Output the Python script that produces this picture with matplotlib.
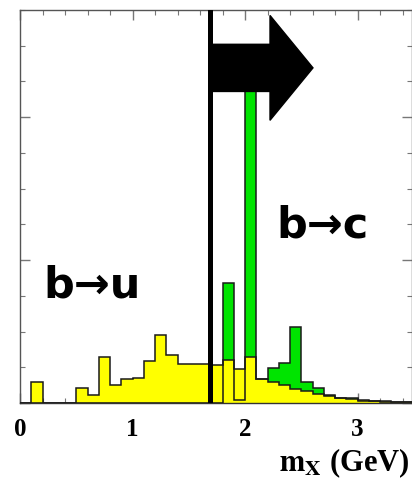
import numpy as np
import matplotlib
matplotlib.use("Agg")
import matplotlib.pyplot as plt
import matplotlib.patches as mpatches
from matplotlib.ticker import MultipleLocator

plt.rcParams['mathtext.fontset'] = 'stix'

# ---- data ----
bin_edges = np.round(np.arange(0.0, 3.51, 0.1), 2)
b_to_u = [0.0, 0.149, 0.0, 0.0, 0.0, 0.105, 0.055, 0.324, 0.126, 0.165,
          0.175, 0.296, 0.475, 0.336, 0.272, 0.272, 0.272, 0.266, 0.300, 0.237,
          0.320, 0.168, 0.147, 0.126, 0.100, 0.084, 0.063, 0.047, 0.035, 0.028,
          0.020, 0.016, 0.012, 0.010, 0.008]
b_to_c = [0.0, 0.0, 0.0, 0.0, 0.0, 0.0, 0.0, 0.0, 0.0, 0.0,
          0.0, 0.0, 0.0, 0.0, 0.0, 0.0, 0.0, 0.0, 0.840, 0.020,
          2.300, 0.165, 0.245, 0.280, 0.530, 0.147, 0.105, 0.056, 0.036, 0.033,
          0.017, 0.015, 0.010, 0.009, 0.008]
x_ticks = [0, 1, 2, 3]
x_tick_labels = ["0", "1", "2", "3"]
cut_mx = 1.685
arrow_x_end = 2.604
arrow_y = 2.345
arrow_shaft_w = 0.33
arrow_head_w = 0.734
arrow_head_len = 0.382

W, H = 412, 483
fig = plt.figure(figsize=(W / 100, H / 100), dpi=100)
ax = fig.add_axes([20 / W, (H - 403) / H, (412 - 20) / W, (403 - 10) / H])
ax.set_xlim(0, 3.484)
ax.set_ylim(0, 2.75)

green = '#00e400'
yellow = '#ffff00'
edge = '#1a1a1a'

ax.stairs(b_to_c, bin_edges, fill=True, color=green, zorder=1)
ax.stairs(b_to_u, bin_edges, fill=True, color=yellow, zorder=2)
ax.stairs(b_to_u, bin_edges, color=edge, linewidth=1.1, zorder=3)
ax.stairs(b_to_c, bin_edges, color=edge, linewidth=1.1, zorder=4)

ax.axvline(cut_mx, color='black', linewidth=3.6, zorder=5)
arr = mpatches.FancyArrow(cut_mx, arrow_y, arrow_x_end - cut_mx, 0,
                          width=arrow_shaft_w, head_width=arrow_head_w,
                          head_length=arrow_head_len, length_includes_head=True,
                          color='black', zorder=6)
ax.add_patch(arr)

ax.text(0.64, 0.74, "b\u2192u", fontsize=31, fontweight='bold',
        family='DejaVu Sans', ha='center', va='baseline', zorder=7)
ax.text(2.69, 1.16, "b\u2192c", fontsize=31, fontweight='bold',
        family='DejaVu Sans', ha='center', va='baseline', zorder=7)

for s in ax.spines.values():
    s.set_color('#555555')
    s.set_linewidth(1.0)
ax.spines['bottom'].set_color('#333333')

ax.set_xticks(x_ticks)
ax.set_xticklabels(x_tick_labels, fontfamily='Liberation Serif',
                   fontweight='bold', fontsize=18)
ax.xaxis.set_minor_locator(MultipleLocator(0.2))
ax.yaxis.set_major_locator(MultipleLocator(1.0))
ax.yaxis.set_minor_locator(MultipleLocator(0.25))
ax.set_yticklabels([])
ax.tick_params(which='both', direction='in', top=True, right=True,
               color='#777777')
ax.tick_params(which='major', length=7, width=1.0)
ax.tick_params(which='minor', length=3.5, width=0.8)
ax.tick_params(axis='x', which='major', pad=11)
ax.tick_params(axis='y', labelleft=False)

fig.text(410 / W, 1 - 463 / H, r'$\mathbf{m}_{\mathbf{X}}$ (GeV)',
         fontfamily='Liberation Serif', fontweight='bold', fontsize=22,
         ha='right', va='center')

fig.savefig('out.png', dpi=100)
